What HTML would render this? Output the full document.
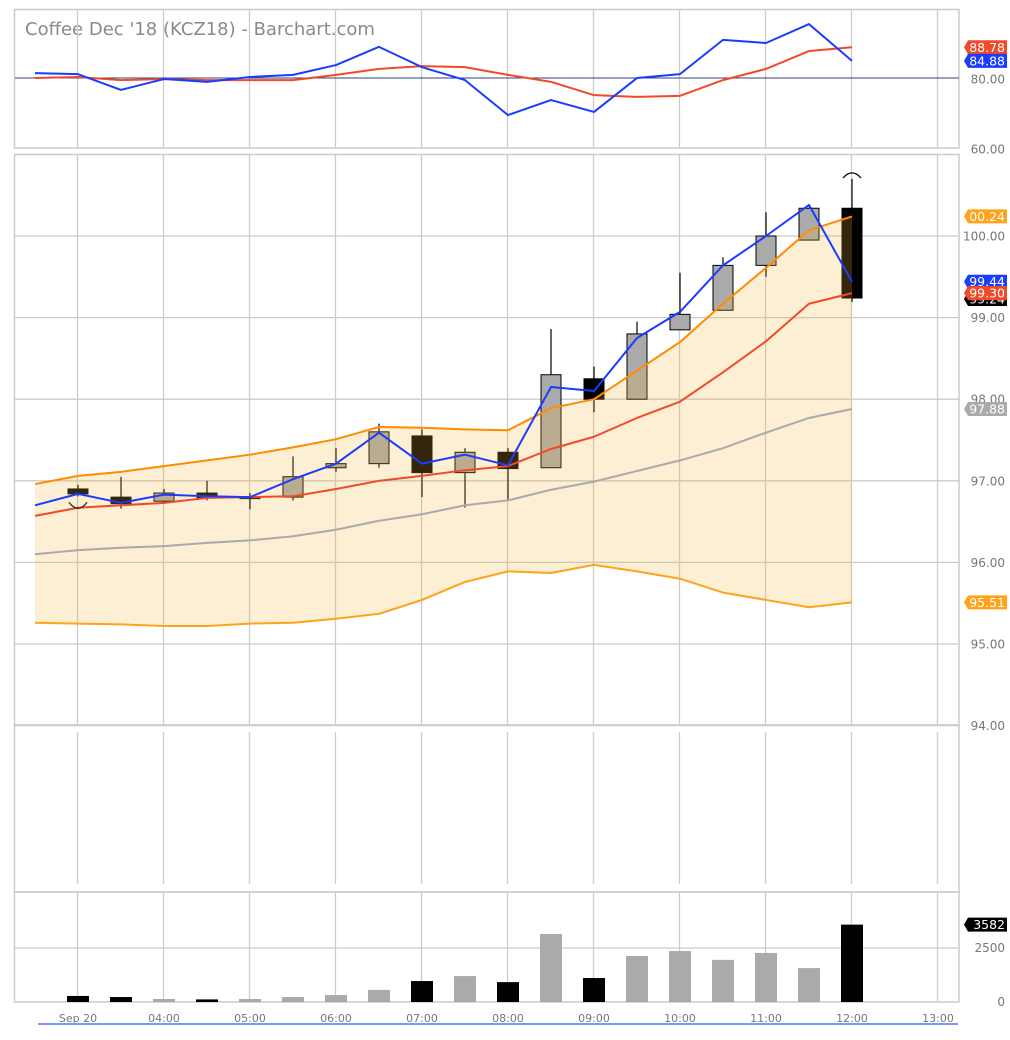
<!DOCTYPE html>
<html><head><meta charset="utf-8"><style>
html,body{margin:0;padding:0;background:#fff;width:1010px;height:1040px;overflow:hidden}
svg{display:block;font-family:"DejaVu Sans","Liberation Sans",sans-serif}
</style></head><body>
<svg id="chart" width="1010" height="1040" viewBox="0 0 1010 1040" xmlns="http://www.w3.org/2000/svg">
<text x="25" y="35" font-size="18" fill="#8a8a8a">Coffee Dec '18 (KCZ18) - Barchart.com</text>
</svg>
<script>
// ---- data ----
const timeLabels = ["Sep 20","04:00","05:00","06:00","07:00","08:00","09:00","10:00","11:00","12:00","13:00"];
const priceTicks = [100,99,98,97,96,95,94];
const oscTicks = [80,60];
const volTicks = [2500,0];
const candleOpen  = [96.90,96.80,96.75,96.85,96.80,96.80,97.16,97.21,97.55,97.10,97.35,97.16,98.25,98.00,98.85,99.09,99.64,99.95,100.34];
const candleHigh  = [96.95,97.05,96.90,97.00,96.85,97.30,97.40,97.70,97.63,97.40,97.40,98.86,98.40,98.95,99.55,99.74,100.29,100.35,100.70];
const candleLow   = [96.81,96.66,96.72,96.76,96.65,96.76,97.11,97.16,96.80,96.67,96.76,97.16,97.84,98.00,98.85,99.09,99.50,99.95,99.19];
const candleClose = [96.84,96.72,96.85,96.79,96.80,97.05,97.21,97.60,97.10,97.35,97.15,98.30,98.00,98.80,99.04,99.64,100.00,100.34,99.24];
const maBlue   = [96.70,96.84,96.73,96.83,96.81,96.80,97.02,97.21,97.59,97.21,97.32,97.19,98.15,98.10,98.75,99.07,99.64,100.00,100.38,99.44];
const bandUpper= [96.96,97.06,97.11,97.18,97.25,97.32,97.41,97.51,97.66,97.65,97.63,97.62,97.89,98.00,98.35,98.70,99.17,99.61,100.07,100.24];
const maRed    = [96.57,96.67,96.70,96.73,96.79,96.80,96.81,96.90,97.00,97.06,97.13,97.18,97.39,97.54,97.77,97.97,98.33,98.71,99.17,99.30];
const bandMid  = [96.10,96.15,96.18,96.20,96.24,96.27,96.32,96.40,96.51,96.59,96.70,96.76,96.89,96.99,97.12,97.25,97.40,97.59,97.77,97.88];
const bandLower= [95.26,95.25,95.24,95.22,95.22,95.25,95.26,95.31,95.37,95.54,95.76,95.89,95.87,95.97,95.89,95.80,95.63,95.54,95.45,95.51];
const oscBlue  = [81.4,81.1,76.6,79.7,78.9,80.3,80.9,83.7,88.9,83.1,79.4,69.4,73.7,70.3,80.0,81.1,90.9,90.0,95.4,84.88];
const oscRed   = [80.0,80.3,79.4,79.7,79.4,79.4,79.4,80.9,82.6,83.4,83.1,80.9,78.9,75.1,74.6,74.9,79.4,82.6,87.7,88.78];
const volume   = [280,230,140,120,140,230,320,560,970,1200,920,3150,1110,2130,2360,1950,2270,1570,3582];

// ---- axes ----
const L=15,R=959;
const xC = i => 78 + 43*i;
const xL = i => 35 + 43*i;
const yP = p => 236 + (100-p)*81.6;
const yO = v => 78 + (80-v)*3.5;
const yV = v => 1002 - v*54/2500;
const NS="http://www.w3.org/2000/svg";
const svg=document.getElementById('chart');
function mk(tag,attrs,parent){const e=document.createElementNS(NS,tag);for(const k in attrs)e.setAttribute(k,attrs[k]);(parent||svg).appendChild(e);return e;}

const panels=[[9.5,148],[154.5,725],[725,892],[892,1002]];
panels.forEach((p,k)=>{
  const r=mk('rect',{x:14.5,y:p[0],width:R-14.5,height:p[1]-p[0],fill:'none',stroke:'#ccc','stroke-width':1.5});
  
  
  const y0=k==2?732:p[0], y1=k==2?884:p[1];
  for(let g=0;g<11;g++){
    const gx=78+86*g-0.5;
    const ln=mk('line',{x1:gx,x2:gx,y1:y0,y2:y1,stroke:'#ccc','stroke-width':1.3});
    
    
  }
});
priceTicks.forEach(t=>{
  const y=yP(t);
  const ln=mk('line',{x1:L,x2:R,y1:y,y2:y,stroke:'#ccc','stroke-width':1.3});
  
  
  const tx=mk('text',{x:1005,y:y+4.5,'font-size':12,fill:'#777','text-anchor':'end'});
  tx.textContent=t.toFixed(2);
  
  
});
oscTicks.forEach(t=>{
  const y=yO(t);
  if(t===80){const ln=mk('line',{x1:L,x2:R,y1:y,y2:y,stroke:'#33407a','stroke-width':1});
    
    }
  const tx=mk('text',{x:1005,y:y+5.5,'font-size':12,fill:'#777','text-anchor':'end'});
  tx.textContent=t.toFixed(2);
  
  
});
volTicks.forEach(t=>{
  const y=yV(t);
  if(t>0){const ln=mk('line',{x1:L,x2:R,y1:y,y2:y,stroke:'#ccc','stroke-width':1.3});
    
    }
  const tx=mk('text',{x:1005,y:y+4,'font-size':12,fill:'#777','text-anchor':'end'});
  tx.textContent=t;
  
  
});
timeLabels.forEach((s,g)=>{
  const tx=mk('text',{x:78+86*g,y:1022,'font-size':11,fill:'#777','text-anchor':'middle'});
  tx.textContent=s;
  
  
});
const ax=mk('line',{x1:38,x2:958,y1:1024,y2:1024,stroke:'#8096ff','stroke-width':2});



function poly(arr,fy,color,name,w){
  const pts=arr.map((v,i)=>xL(i)+','+fy(v)).join(' ');
  const p=mk('polyline',{points:pts,fill:'none',stroke:color,'stroke-width':w||2,'stroke-linejoin':'round'});
  
  
}
poly(oscRed,yO,'#f04a2a','osc-red-line');
poly(oscBlue,yO,'#1a3cff','osc-blue-line');

candleOpen.forEach((o,i)=>{
  const c=candleClose[i],x=xC(i),up=c>o;
  const w=mk('line',{x1:x,x2:x,y1:yP(candleHigh[i]),y2:yP(candleLow[i]),stroke:'#000','stroke-width':1.2});
  
  
  const top=yP(Math.max(o,c)),bot=yP(Math.min(o,c));
  const b=mk('rect',{x:x-10,y:top,width:20,height:Math.max(1.5,bot-top),fill:up?'#aaa':'#000',stroke:'#000','stroke-width':1});
  
  
});
{
  const up=bandUpper.map((v,i)=>xL(i)+','+yP(v));
  const lo=bandLower.map((v,i)=>xL(i)+','+yP(v)).reverse();
  const f=mk('polygon',{points:up.concat(lo).join(' '),fill:'rgba(245,178,48,0.21)'});
  
  
}
poly(bandMid,yP,'#aaa','band-middle-line');
poly(bandLower,yP,'#ffa31a','band-lower-line');
poly(bandUpper,yP,'#ff8c00','band-upper-line');
poly(maRed,yP,'#f04a2a','ma-red-line');
poly(maBlue,yP,'#1a3cff','ma-blue-line');
{
  const x0=xC(0),y0=yP(candleLow[0])+6;
  const a=mk('path',{d:`M${x0-9},${y0} Q${x0},${y0+12} ${x0+9},${y0}`,fill:'none',stroke:'#333','stroke-width':1.3});
  
  
  const x1=xC(18),y1=yP(candleHigh[18])-1;
  const b=mk('path',{d:`M${x1-9},${y1} Q${x1},${y1-10} ${x1+9},${y1}`,fill:'none',stroke:'#000','stroke-width':1.3});
  
  
}
volume.forEach((v,i)=>{
  const down=candleClose[i]<candleOpen[i];
  const r=mk('rect',{x:xC(i)-11,y:yV(v),width:22,height:yV(0)-yV(v),fill:down?'#000':'#aaa'});
  
  
});
function tag(y,txt,bg,fg,name){
  const g=mk('g',{});
  
  
  mk('path',{d:`M964,${y} L968,${y-7} L1007,${y-7} L1007,${y+7} L968,${y+7} Z`,fill:bg},g);
  const t=mk('text',{x:1005,y:y+4.5,'font-size':12.5,fill:fg,'text-anchor':'end'},g);
  t.textContent=txt;
}
tag(yO(oscRed[19]),oscRed[19].toFixed(2),'#f04a2a','#fff','osc-red-tag');
tag(yO(oscBlue[19]),oscBlue[19].toFixed(2),'#1a3cff','#fff','osc-blue-tag');
tag(yP(bandUpper[19]),'00.24','#ffa31a','#fff','band-upper-tag');
tag(yP(candleClose[18])+1,candleClose[18].toFixed(2),'#000','#fff','last-price-tag');
tag(yP(maBlue[19]),maBlue[19].toFixed(2),'#1a3cff','#fff','ma-blue-tag');
tag(yP(maRed[19]),maRed[19].toFixed(2),'#f04a2a','#fff','ma-red-tag');
tag(yP(bandMid[19]),bandMid[19].toFixed(2),'#aaa','#fff','band-middle-tag');
tag(yP(bandLower[19]),bandLower[19].toFixed(2),'#ffa31a','#fff','band-lower-tag');
tag(yV(volume[18]),'3582','#000','#fff','volume-tag');
</script>
</body></html>
